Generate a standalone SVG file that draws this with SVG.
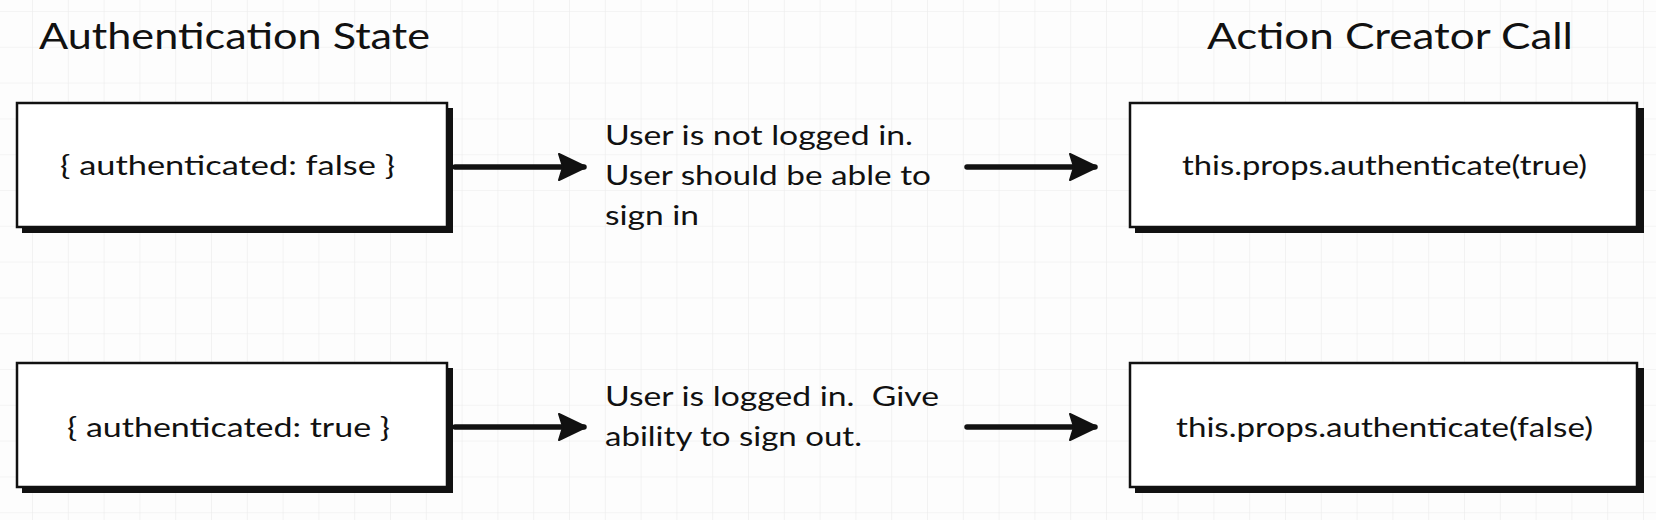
<svg xmlns="http://www.w3.org/2000/svg" width="1656" height="520" viewBox="0 0 1656 520">
<style>
.title{font-family:Lato,"Liberation Sans",sans-serif;font-size:37px;fill:#111}
.lbl{font-family:Lato,"Liberation Sans",sans-serif;font-size:26px;fill:#111}
.box{fill:#fff;stroke:#111;stroke-width:2.5}
.shadow{fill:#111}
.conn{stroke:#111;stroke-width:5.5;stroke-linecap:round;fill:none}
</style>
<defs>
<pattern id="grid" patternUnits="userSpaceOnUse" x="32" y="11" width="35.8" height="35.8">
<path d="M0,0 H35.8 M0,0 V35.8" stroke="#ebebeb" stroke-width="1.2" fill="none"/>
</pattern>
<marker id="arrow" markerUnits="userSpaceOnUse" markerWidth="32" markerHeight="32" refX="26" refY="14" orient="auto" viewBox="0 0 32 28">
<path d="M1,1 L26,13 L26,15 L1,27 L5,14 Z" fill="#111" stroke="#111" stroke-width="2" stroke-linejoin="round"/>
</marker>
</defs>
<rect width="1656" height="520" fill="#fdfdfd"/>
<rect width="1656" height="520" fill="url(#grid)"/>

<g id="titles">
<text class="title" x="39" y="49" textLength="391" lengthAdjust="spacingAndGlyphs">Authentication State</text>
<text class="title" x="1207" y="49" textLength="366" lengthAdjust="spacingAndGlyphs">Action Creator Call</text>
</g>

<g id="connectors">
<line class="conn" x1="455" y1="167" x2="584" y2="167" marker-end="url(#arrow)"/>
<line class="conn" x1="967" y1="167" x2="1095" y2="167" marker-end="url(#arrow)"/>
<line class="conn" x1="455" y1="427" x2="584" y2="427" marker-end="url(#arrow)"/>
<line class="conn" x1="967" y1="427" x2="1095" y2="427" marker-end="url(#arrow)"/>
</g>

<g id="state-false">
<rect class="shadow" x="22" y="108" width="431" height="125"/>
<rect class="box" x="17" y="103" width="430" height="124"/>
<text class="lbl" x="60" y="175" textLength="335" lengthAdjust="spacingAndGlyphs">{ authenticated: false }</text>
</g>

<g id="state-true">
<rect class="shadow" x="22" y="368" width="431" height="125"/>
<rect class="box" x="17" y="363" width="430" height="124"/>
<text class="lbl" x="67" y="437" textLength="323" lengthAdjust="spacingAndGlyphs">{ authenticated: true }</text>
</g>

<g id="desc-not-logged">
<text class="lbl" x="605" y="145" textLength="308" lengthAdjust="spacingAndGlyphs">User is not logged in.</text>
<text class="lbl" x="605" y="185" textLength="326" lengthAdjust="spacingAndGlyphs">User should be able to</text>
<text class="lbl" x="605" y="225" textLength="94" lengthAdjust="spacingAndGlyphs">sign in</text>
</g>

<g id="desc-logged">
<text class="lbl" x="605" y="406" textLength="334" lengthAdjust="spacingAndGlyphs" xml:space="preserve">User is logged in.  Give</text>
<text class="lbl" x="605" y="446" textLength="257" lengthAdjust="spacingAndGlyphs">ability to sign out.</text>
</g>

<g id="action-true">
<rect class="shadow" x="1135" y="108" width="509" height="125"/>
<rect class="box" x="1130" y="103" width="507" height="124"/>
<text class="lbl" x="1182" y="175" textLength="405" lengthAdjust="spacingAndGlyphs">this.props.authenticate(true)</text>
</g>

<g id="action-false">
<rect class="shadow" x="1135" y="368" width="509" height="125"/>
<rect class="box" x="1130" y="363" width="507" height="124"/>
<text class="lbl" x="1176" y="437" textLength="417" lengthAdjust="spacingAndGlyphs">this.props.authenticate(false)</text>
</g>
</svg>
